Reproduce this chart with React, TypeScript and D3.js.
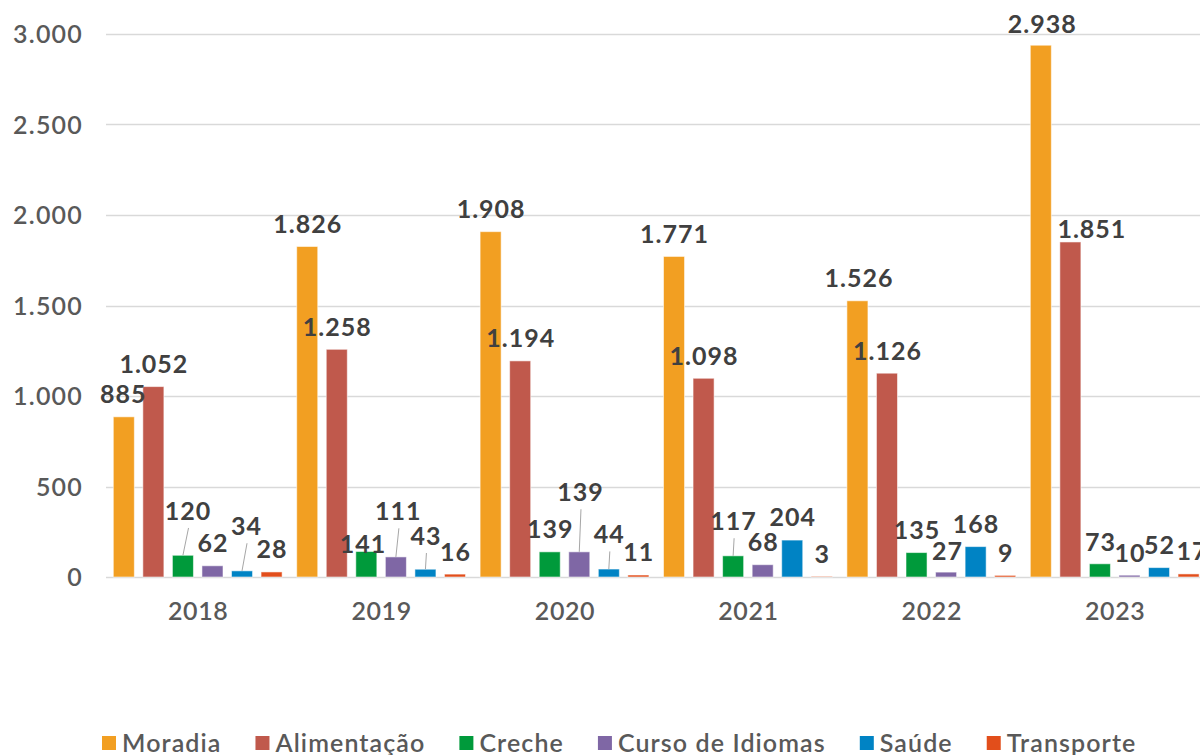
import React, { useEffect, useRef } from "react";
import * as d3 from "d3";

const years = ["2018", "2019", "2020", "2021", "2022", "2023"];
const seriesNames = ["Moradia", "Alimentação", "Creche", "Curso de Idiomas", "Saúde", "Transporte"];
const moradia = [885, 1826, 1908, 1771, 1526, 2938];
const alimentacao = [1052, 1258, 1194, 1098, 1126, 1851];
const creche = [120, 141, 139, 117, 135, 73];
const cursoIdiomas = [62, 111, 139, 68, 27, 10];
const saude = [34, 43, 44, 204, 168, 52];
const transporte = [28, 16, 11, 3, 9, 17];
const yTicks = [0, 500, 1000, 1500, 2000, 2500, 3000];

const seriesValues = [moradia, alimentacao, creche, cursoIdiomas, saude, transporte];
const colors = ["#F29F22", "#C0594C", "#009A3B", "#7F67A5", "#0083C4", "#E24E1B"];

// manual label nudges [dx, dy] per series per year (as placed in the original)
const labelNudges: [number, number][][] = [
  [[-1, 0], [0, 0], [0, 0], [0, 0], [1, 0], [1, 1]],
  [[0, 0], [0, 0], [0, 0], [0, 0], [0, 0], [21, 10]],
  [[4.6, -21.7], [-3.8, 15], [0, 0], [0, -12], [0, 0], [0, 1]],
  [[0, 0], [2, -23], [0.7, -37], [0, 0], [1, 1], [0, 0]],
  [[4, -22], [0, -10.6], [0, -12], [0, 0], [0, 0], [0, 0]],
  [[0, 0], [0, 0], [0, 0], [0, 0], [0, 0], [3, 0]],
];

const W = 1200;
const H = 755;
const FONT = "Lato, 'Open Sans', sans-serif";

export default function App() {
  const ref = useRef<SVGSVGElement | null>(null);

  useEffect(() => {
    const svg = d3.select(ref.current);
    svg.selectAll("*").remove();

    const y = d3.scaleLinear().domain([0, 3000]).range([577, 34]);
    const x0 = d3.scaleBand<string>().domain(years).range([106, 106 + 6 * 183.4]).padding(0);
    const x1 = d3
      .scaleBand<string>()
      .domain(seriesNames)
      .range([7.3, 176.1])
      .paddingInner(0.288)
      .paddingOuter(0);

    const locale = d3.formatLocale({ decimal: ",", thousands: ".", grouping: [3], currency: ["R$", ""] });
    const fmt = locale.format(",d");

    // gridlines
    svg
      .append("g")
      .selectAll("line")
      .data(yTicks)
      .join("line")
      .attr("x1", 106)
      .attr("x2", W)
      .attr("y1", (d) => Math.round(y(d)) + 0.5)
      .attr("y2", (d) => Math.round(y(d)) + 0.5)
      .attr("stroke", "#D9D9D9")
      .attr("stroke-width", 1.3);

    // y tick labels
    svg
      .append("g")
      .selectAll("text")
      .data(yTicks)
      .join("text")
      .attr("x", 83)
      .attr("y", (d) => y(d))
      .attr("dy", "0.36em")
      .attr("text-anchor", "end")
      .attr("font-family", FONT)
      .attr("font-size", 25)
      .attr("font-weight", 600)
      .attr("letter-spacing", 1.2)
      .attr("fill", "#595959")
      .text((d) => fmt(d));

    // x category labels
    svg
      .append("g")
      .selectAll("text")
      .data(years)
      .join("text")
      .attr("x", (d) => (x0(d) as number) + x0.bandwidth() / 2 + 0.5)
      .attr("y", 611)
      .attr("dy", "0.36em")
      .attr("text-anchor", "middle")
      .attr("font-family", FONT)
      .attr("font-size", 25)
      .attr("font-weight", 600)
      .attr("letter-spacing", 0.6)
      .attr("fill", "#595959")
      .text((d) => d);

    // bars
    seriesNames.forEach((s, si) => {
      const vals = seriesValues[si];
      svg
        .append("g")
        .selectAll("rect")
        .data(years)
        .join("rect")
        .attr("x", (yr) => (x0(yr) as number) + (x1(s) as number))
        .attr("width", x1.bandwidth())
        .attr("y", (yr, i) => y(vals[i]))
        .attr("height", (yr, i) => y(0) - y(vals[i]))
        .attr("fill", colors[si])
        .attr("stroke", "rgba(255,255,255,0.55)")
        .attr("stroke-width", 1);
    });

    // labels + leader lines
    const lab = svg.append("g");
    seriesNames.forEach((s, si) => {
      const vals = seriesValues[si];
      years.forEach((yr, yi) => {
        const v = vals[yi];
        const cx = (x0(yr) as number) + (x1(s) as number) + x1.bandwidth() / 2;
        const top = y(v);
        const [dx, dy] = labelNudges[si][yi];
        const lx = cx + dx;
        const ly = top - 22.6 + dy;
        if (dy <= -10) {
          lab
            .append("line")
            .attr("x1", lx + 1)
            .attr("y1", ly + 17)
            .attr("x2", cx)
            .attr("y2", top)
            .attr("stroke", "#A6A6A6")
            .attr("stroke-width", 1);
        }
        lab
          .append("text")
          .attr("x", lx + 0.5)
          .attr("y", ly)
          .attr("dy", "0.36em")
          .attr("text-anchor", "middle")
          .attr("font-family", FONT)
          .attr("font-size", 25)
          .attr("font-weight", 700)
          .attr("letter-spacing", 1)
          .attr("fill", "#404040")
          .text(fmt(v));
      });
    });

    // legend
    const leg = svg.append("g");
    let lx = 102;
    const ly = 743;
    seriesNames.forEach((s, si) => {
      leg
        .append("rect")
        .attr("x", lx)
        .attr("y", ly - 7)
        .attr("width", 14)
        .attr("height", 14)
        .attr("fill", colors[si]);
      const t = leg
        .append("text")
        .attr("x", lx + 20)
        .attr("y", ly)
        .attr("dy", "0.36em")
        .attr("font-family", FONT)
        .attr("font-size", 25)
        .attr("font-weight", 600)
        .attr("letter-spacing", 1.1)
        .attr("fill", "#595959")
        .text(s);
      const w = (t.node() as SVGTextElement).getComputedTextLength();
      lx = lx + 20 + w + 34;
    });
  }, []);

  return (
    <svg
      ref={ref}
      width={W}
      height={H}
      style={{ position: "absolute", left: 0, top: 0, background: "#fff" }}
    />
  );
}
